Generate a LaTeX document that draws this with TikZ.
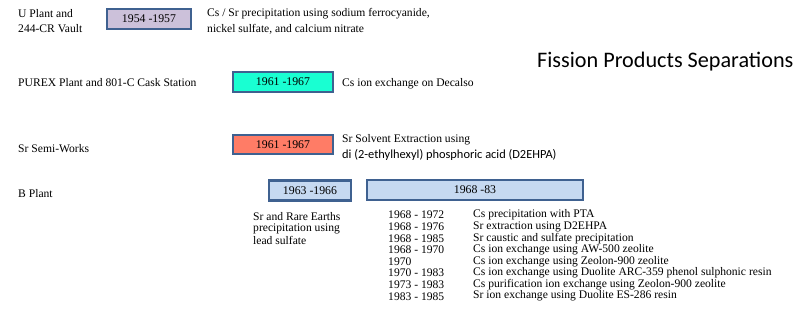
\documentclass[tikz,border=0pt]{standalone}
\usepackage{fontspec}
\setmainfont{Liberation Serif}
\newfontfamily\calib{Carlito}
\definecolor{bordc}{HTML}{3F6190}
\definecolor{lavc}{HTML}{CCC1DA}
\definecolor{aquac}{HTML}{19FFD2}
\definecolor{salmc}{HTML}{FF7C66}
\definecolor{lbluc}{HTML}{C6D9F1}
\tikzset{
  txt/.style={anchor=west, inner sep=0pt, font=\fontsize{11.6}{13}\selectfont},
  sans/.style={anchor=west, inner sep=0pt, font=\calib\fontsize{12.4}{14}\selectfont},
  yearbox/.style={draw=bordc, line width=2.3pt, inner sep=0pt, font=\fontsize{11.8}{13}\selectfont},
}
\begin{document}
\begin{tikzpicture}[x=1pt,y=-1pt]
\useasboundingbox (0,0) rectangle (808,325);
% title
\node[anchor=west, inner sep=0pt, font=\calib\fontsize{22.2}{25}\selectfont] (title) at (537,62) {Fission Products Separations};
% U Plant
\node[txt] (u1) at (18,14) {U Plant and};
\node[txt] (u2) at (18,29) {244-CR Vault};
\node[yearbox, fill=lavc, minimum width=84pt, minimum height=20pt] (ubox) at (149,19) {1954 -1957};
\node[txt] (ud1) at (207,14) {Cs / Sr precipitation using sodium ferrocyanide,};
\node[txt] (ud2) at (207,29) {nickel sulfate, and calcium nitrate};
% PUREX
\node[txt] (p1) at (18,83) {PUREX Plant and 801-C Cask Station};
\node[yearbox, fill=aquac, minimum width=100pt, minimum height=20pt] (pbox) at (283,82) {1961 -1967};
\node[txt] (pd) at (342,84) {Cs ion exchange on Decalso};
% Sr Semi-Works
\node[txt] (s1) at (18,149) {Sr Semi-Works};
\node[yearbox, fill=salmc, minimum width=100pt, minimum height=19pt] (sbox) at (283,144.5) {1961 -1967};
\node[txt] (sd1) at (342,140) {Sr Solvent Extraction using};
\node[sans] (sd2) at (342,155) {di (2-ethylhexyl) phosphoric acid (D2EHPA)};
% B Plant
\node[txt] (b1) at (18,194) {B Plant};
\node[yearbox, fill=lbluc, minimum width=82pt, minimum height=20pt] (bbox1) at (310,190.5) {1963 -1966};
\node[yearbox, fill=lbluc, minimum width=216pt, minimum height=20pt] (bbox2) at (475,190) {1968 -83};
\node[txt] (bl1) at (253,217) {Sr and Rare Earths};
\node[txt] (bl2) at (253,229) {precipitation using};
\node[txt] (bl3) at (253,240) {lead sulfate};
\foreach \i/\d/\t in {0/1968 - 1972/Cs precipitation with PTA,
                      1/1968 - 1976/Sr extraction using D2EHPA,
                      2/1968 - 1985/Sr caustic and sulfate precipitation,
                      3/1968 - 1970/Cs ion exchange using AW-500 zeolite,
                      4/1970/Cs ion exchange using Zeolon-900 zeolite,
                      5/1970 - 1983/Cs ion exchange using Duolite ARC-359 phenol sulphonic resin,
                      6/1973 - 1983/Cs purification ion exchange using Zeolon-900 zeolite,
                      7/1983 - 1985/Sr ion exchange using Duolite ES-286 resin}{
  \node[txt] (d\i) at (388,215+11.6*\i) {\d};
  \node[txt] (t\i) at (473,215+11.6*\i) {\t};
}
\end{tikzpicture}
\end{document}
